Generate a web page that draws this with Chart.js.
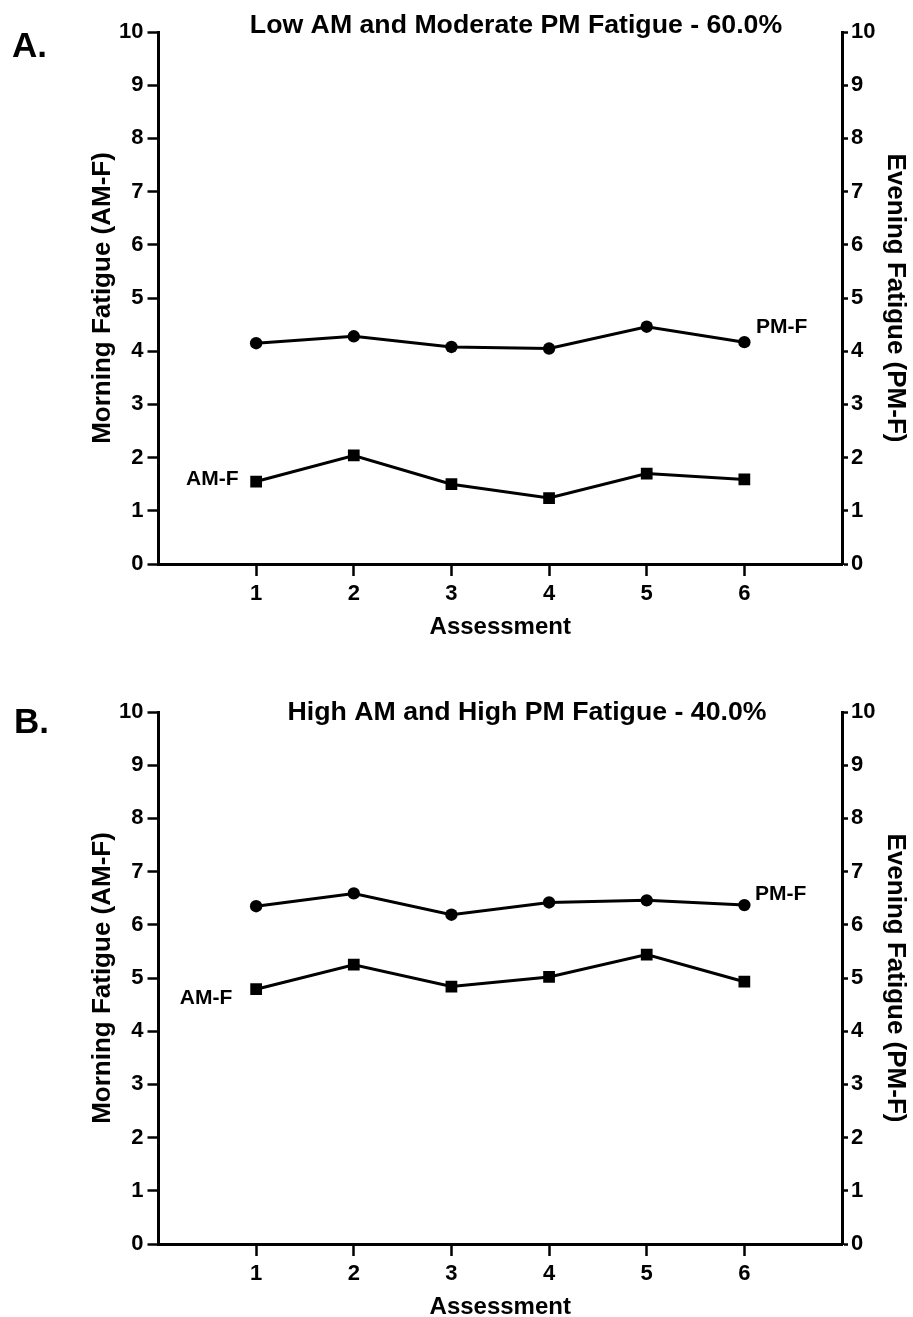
<!DOCTYPE html>
<html>
<head>
<meta charset="utf-8">
<script src="https://cdn.jsdelivr.net/npm/chart.js@4.4.1/dist/chart.umd.min.js"></script>
<style>
  html, body { margin: 0; padding: 0; background: #fff; overflow: hidden; }
  #wrap { position: relative; width: 913px; height: 1317px; overflow: hidden; }
  canvas { position: absolute; left: 0; }
  #cA { top: 0; }
  #cB { top: 680px; }
</style>
</head>
<body>
<div id="wrap">
  <canvas id="cA" width="913" height="680"></canvas>
  <canvas id="cB" width="913" height="680"></canvas>
</div>
<script>
// ---- data ----
const assessments = [1, 2, 3, 4, 5, 6];
const xTickLabels = ['1', '2', '3', '4', '5', '6'];
const yTickValues = [0, 1, 2, 3, 4, 5, 6, 7, 8, 9, 10];

const titleA = 'Low AM and Moderate PM Fatigue - 60.0%';
const amA = [1.55, 2.04, 1.50, 1.24, 1.70, 1.59];
const pmA = [4.15, 4.28, 4.08, 4.05, 4.46, 4.17];

const titleB = 'High AM and High PM Fatigue - 40.0%';
const amB = [4.79, 5.25, 4.84, 5.02, 5.44, 4.93];
const pmB = [6.35, 6.59, 6.19, 6.42, 6.46, 6.37];

const seriesNames = ['AM-F', 'PM-F'];
const xAxisTitle = 'Assessment';
const yLeftTitle = 'Morning Fatigue (AM-F)';
const yRightTitle = 'Evening Fatigue (PM-F)';

// ---- styling / layout ----
const FONT = "'Liberation Sans', Arial, Helvetica, sans-serif";
const tickFont = { family: FONT, size: 22, weight: 'bold' };

const annotPlugin = {
  id: 'annot',
  afterDraw(chart, args, opts) {
    const ctx = chart.ctx;
    const xs = chart.scales.x, yl = chart.scales.y;
    ctx.save();
    ctx.fillStyle = '#000';
    ctx.textBaseline = 'alphabetic';
    // panel letter
    ctx.font = 'bold 35px ' + FONT;
    ctx.textAlign = 'left';
    ctx.fillText(opts.letter, opts.letterX, opts.letterY);
    // title
    ctx.font = 'bold 26.7px ' + FONT;
    ctx.textAlign = 'center';
    ctx.fillText(opts.title, opts.titleX, opts.titleY);
    // series labels (anchored in data coordinates)
    ctx.font = 'bold 21px ' + FONT;
    opts.labels.forEach(l => {
      ctx.textAlign = l.align;
      ctx.fillText(l.text, xs.getPixelForValue(l.x), yl.getPixelForValue(l.y));
    });
    ctx.restore();
  }
};

function makeChart(id, am, pm, opts) {
  const toPts = arr => arr.map((v, i) => ({ x: assessments[i], y: v }));
  return new Chart(document.getElementById(id), {
    type: 'line',
    data: {
      datasets: [
        {
          label: seriesNames[0], data: toPts(am), yAxisID: 'y',
          borderColor: '#000', backgroundColor: '#000', borderWidth: 3,
          pointStyle: 'rect', pointRadius: 8.3, pointBorderWidth: 0, tension: 0
        },
        {
          label: seriesNames[1], data: toPts(pm), yAxisID: 'y2',
          borderColor: '#000', backgroundColor: '#000', borderWidth: 3,
          pointStyle: 'circle', pointRadius: 6.2, pointBorderWidth: 0, tension: 0
        }
      ]
    },
    options: {
      responsive: false,
      animation: false,
      devicePixelRatio: 1,
      layout: { padding: { left: 87, right: 2, top: 32, bottom: 38.6 } },
      plugins: {
        legend: { display: false },
        tooltip: { enabled: false },
        annot: opts
      },
      scales: {
        x: {
          type: 'linear', min: 0, max: 7,
          afterBuildTicks: s => { s.ticks = assessments.map(v => ({ value: v })); },
          afterFit: s => { s.height = 77.4; },
          ticks: {
            color: '#000', font: tickFont, padding: 5, maxRotation: 0, autoSkip: false,
            callback: (v) => xTickLabels[assessments.indexOf(v)] ?? ''
          },
          grid: { display: true, drawOnChartArea: false, drawTicks: true, tickLength: 12, tickWidth: 2.5, tickColor: '#000' },
          border: { display: true, color: '#000', width: 3 },
          title: { display: true, text: xAxisTitle, color: '#000', font: { family: FONT, size: 24, weight: 'bold' }, padding: { top: 0, bottom: 0 } }
        },
        y: {
          position: 'left', min: 0, max: 10,
          afterBuildTicks: s => { s.ticks = yTickValues.map(v => ({ value: v })); },
          afterFit: s => { s.width = 71.5; },
          ticks: { color: '#000', font: tickFont, padding: 4 },
          grid: { display: true, drawOnChartArea: false, drawTicks: true, tickLength: 11, tickWidth: 2.5, tickColor: '#000' },
          border: { display: true, color: '#000', width: 3 },
          title: { display: true, text: yLeftTitle, color: '#000', font: { family: FONT, size: 26, weight: 'bold' }, padding: { top: 0, bottom: 0 } }
        },
        y2: {
          position: 'right', min: 0, max: 10,
          afterBuildTicks: s => { s.ticks = yTickValues.map(v => ({ value: v })); },
          afterFit: s => { s.width = 69; },
          ticks: { color: '#000', font: tickFont, padding: 3 },
          grid: { display: true, drawOnChartArea: false, drawTicks: true, tickLength: 6, tickWidth: 2.5, tickColor: '#000' },
          border: { display: true, color: '#000', width: 3 },
          title: { display: true, text: yRightTitle, color: '#000', font: { family: FONT, size: 26, weight: 'bold' }, padding: { top: 0, bottom: 0 } }
        }
      }
    },
    plugins: [annotPlugin]
  });
}

makeChart('cA', amA, pmA, {
  letter: 'A.', letterX: 12, letterY: 57,
  title: titleA, titleX: 516, titleY: 33,
  labels: [
    { text: seriesNames[1], x: 6.12, y: 4.34, align: 'left' },
    { text: seriesNames[0], x: 0.82, y: 1.485, align: 'right' }
  ]
});
makeChart('cB', amB, pmB, {
  letter: 'B.', letterX: 14, letterY: 53,
  title: titleB, titleX: 527, titleY: 40,
  labels: [
    { text: seriesNames[1], x: 6.11, y: 6.47, align: 'left' },
    { text: seriesNames[0], x: 0.755, y: 4.51, align: 'right' }
  ]
});
</script>
</body>
</html>
